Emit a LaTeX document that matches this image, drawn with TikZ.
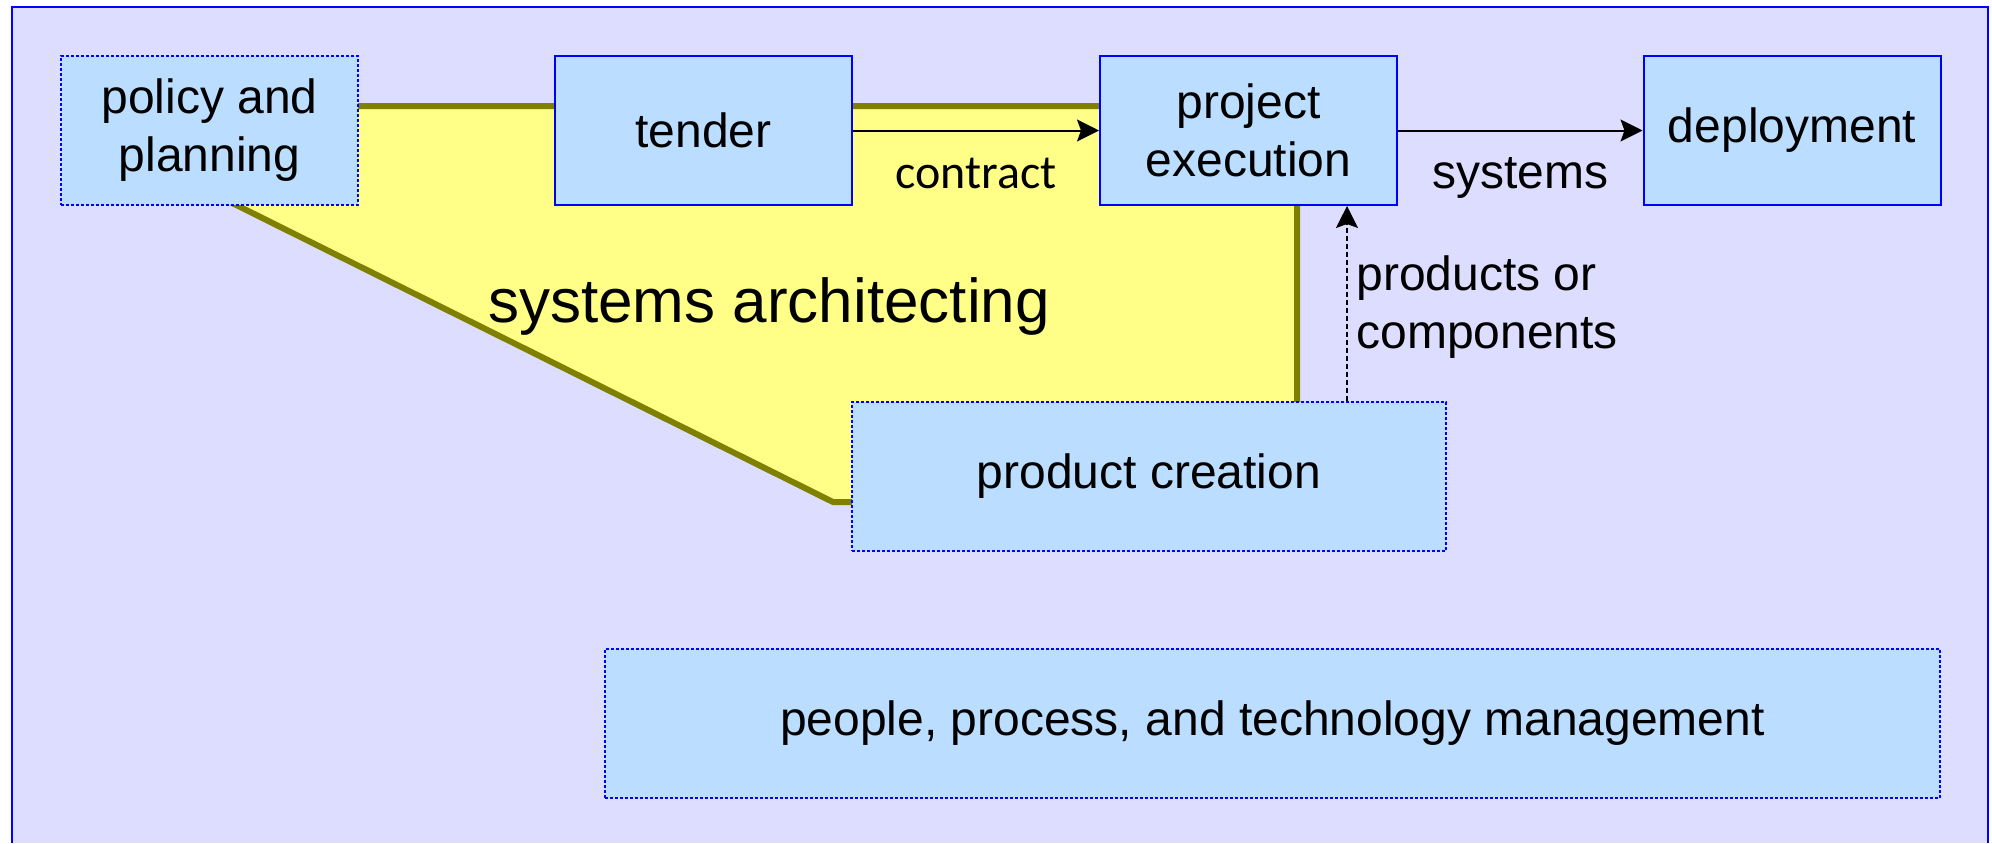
\documentclass[tikz,border=0pt]{standalone}
\usepackage{fontspec}
\setmainfont{Liberation Sans}
\newfontfamily\labelfont{Carlito}
\usepackage{xcolor}
\usetikzlibrary{arrows.meta}
\definecolor{framefill}{HTML}{DDDDFF}
\definecolor{boxfill}{HTML}{BBDDFF}
\definecolor{archfill}{HTML}{FFFF88}
\definecolor{archline}{HTML}{808000}

\begin{document}
\begin{tikzpicture}[
    x=0.5pt, y=-0.5pt,
    phase/.style={rectangle, draw=blue, line width=1pt, fill=boxfill, minimum width=148.5pt, minimum height=74.5pt, inner sep=0pt, font=\fontsize{24}{29}\selectfont, align=center},
    dotphase/.style={phase, line width=1.2pt, dash pattern=on 1.5pt off 1pt},
    flow/.style={-{Stealth[length=11pt, width=11pt, inset=2pt]}, line width=1pt},
    feed/.style={flow, line width=0.75pt, dash pattern=on 2.5pt off 1.5pt},
    tag/.style={font=\fontsize{24}{29}\selectfont, inner sep=0pt}
]
\useasboundingbox (0,0) rectangle (1992,843);

% Frame
\fill[framefill] (12,7) rectangle (1988,843);
\draw[blue, line width=1pt] (12,843) -- (12,7) -- (1988,7) -- (1988,843);

% Architecting area
\draw[archline, fill=archfill, line width=3pt, line join=round] (186,180) -- (186,106) -- (1297,106) -- (1297,502) -- (833,502) -- cycle;
\node[tag, font=\fontsize{31}{37}\selectfont, anchor=base] (arch) at (769,322) {systems architecting};

% Phases
\node[dotphase] (policy) at (209.5,130.5) {policy and\\planning};
\node[phase] (tender) at (703.5,130.5) {tender};
\node[phase] (exec) at (1248.5,130.5) {project\\execution};
\node[phase] (deploy) at (1792,130.5) {deployment};
\node[dotphase, minimum width=297pt] (prod) at (1149,476.5) {product creation};
\node[dotphase, minimum width=667.5pt] (ppt) at (1272.5,723.5) {people, process, and technology management};

% Flows
\coordinate (up) at (1347,0);
\draw[flow] (tender) -- (exec);
\draw[flow] (exec) -- (deploy);
\draw[feed] (prod.north -| up) -- (exec.south -| up);

% Flow labels
\node[tag, font=\fontsize{24}{29}\labelfont, anchor=base] (contract) at (976,188) {contract};
\node[tag, anchor=base] (systems) at (1520,188) {systems};
\node[tag, anchor=base west, align=left] (parts) at (1356,348) {products or\\components};
\end{tikzpicture}
\end{document}
